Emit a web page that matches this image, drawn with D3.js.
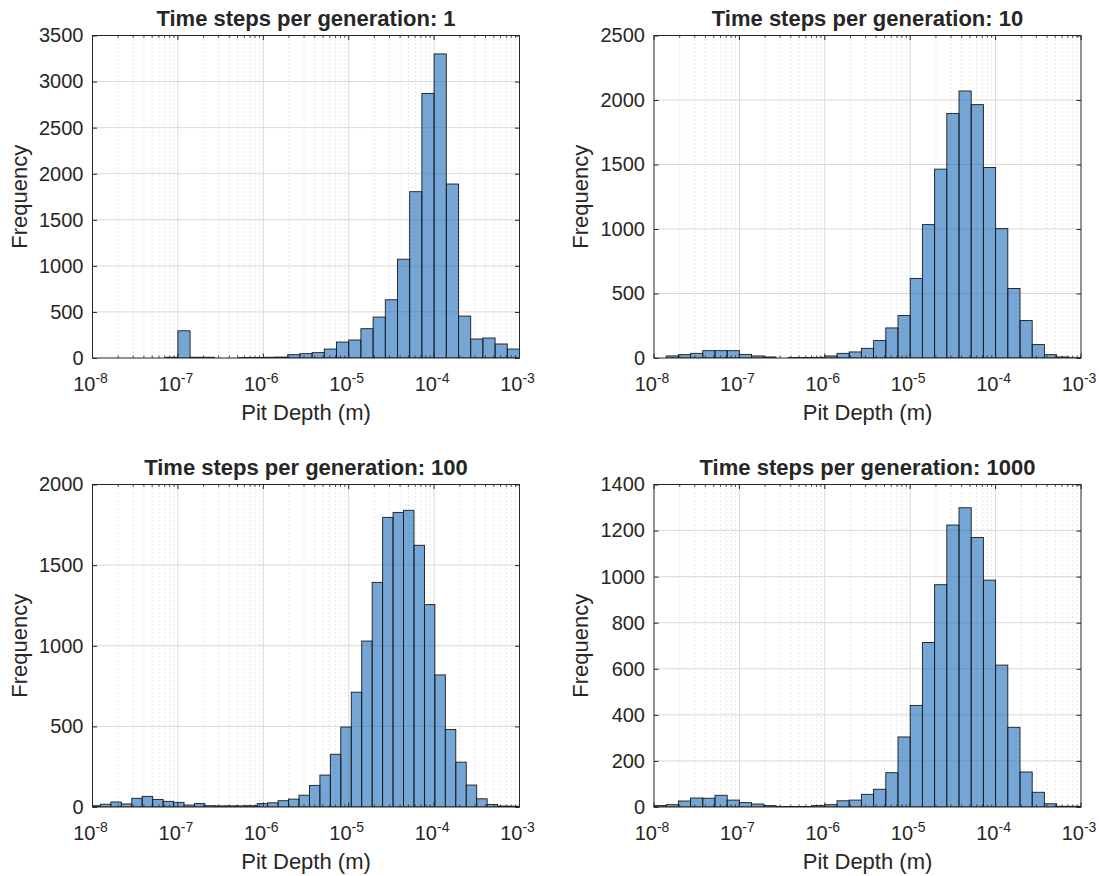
<!DOCTYPE html>
<html>
<head>
<meta charset="utf-8">
<script src="https://cdn.jsdelivr.net/npm/d3@7"></script>
<style>
  body { margin: 0; background: #fff; }
  text { font-family: "Liberation Sans", Arial, Helvetica, sans-serif; fill: #262626; }
</style>
</head>
<body>
<svg id="chart" width="1101" height="876"></svg>
<script>
// Time steps per generation for each panel
const steps = [1, 10, 100, 1000];

// log10 of first bin edge and bin width in decades
const binStart = [-8, -8, -8.03, -8];
const binWidth = [1 / 7, 1 / 7, 0.1224, 1 / 7];

// bin counts, left to right
const counts1 = [0, 0, 0, 0, 0, 0, 8, 295, 8, 8, 0, 0, 6, 6, 8, 10,
  36, 47, 58, 97, 173, 195, 318, 444, 632, 1072, 1805, 2870, 3300, 1888,
  455, 206, 217, 152, 97];
const counts2 = [0, 16, 26, 36, 57, 57, 57, 28, 16, 8, 0, 4, 4, 5, 16, 36,
  47, 75, 135, 233, 329, 617, 1034, 1464, 1896, 2070, 1964, 1477, 1003, 539,
  290, 104, 26, 8, 2];
const counts3 = [8, 17, 31, 19, 54, 66, 47, 35, 29, 12, 21, 8, 7, 7, 7, 8,
  21, 26, 39, 49, 73, 134, 198, 327, 496, 712, 1029, 1393, 1796, 1827,
  1840, 1623, 1255, 819, 481, 278, 136, 51, 16, 6, 5];
const counts4 = [6, 10, 26, 39, 38, 51, 30, 19, 13, 6, 2, 2, 2, 6, 10, 27,
  30, 55, 77, 149, 304, 441, 714, 965, 1224, 1299, 1170, 985, 616, 346,
  152, 64, 14, 3, 3];
const allCounts = [counts1, counts2, counts3, counts4];

// y axis limits and tick steps
const yMax = [3500, 2500, 2000, 1400];
const yStep = [500, 500, 500, 200];

// x axis decades
const decades = [-8, -7, -6, -5, -4, -3];

const svg = d3.select("#chart");
const w = 427, h = 322.5;
const lefts = [92.5, 654, 92.5, 654];
const tops = [35.5, 35.5, 484.5, 484.5];

const x = d3.scaleLog().domain([1e-8, 1e-3]).range([0, w]);

// minor positions 2..9 x 10^k
const minors = [];
decades.slice(0, -1).forEach(k => {
  for (let m = 2; m <= 9; m++) minors.push(m * Math.pow(10, k));
});

steps.forEach((s, p) => {
  const counts = allCounts[p];
  const y = d3.scaleLinear().domain([0, yMax[p]]).range([h, 0]);
  const g = svg.append("g").attr("transform", `translate(${lefts[p]},${tops[p]})`);

  g.append("defs").append("clipPath").attr("id", "clip" + p)
    .append("rect").attr("width", w).attr("height", h);

  // minor vertical grid (dotted)
  g.selectAll(".minor").data(minors).enter().append("line")
    .attr("x1", d => x(d)).attr("x2", d => x(d))
    .attr("y1", 0).attr("y2", h)
    .attr("stroke", "#c4c4c4").attr("stroke-width", 0.8)
    .attr("stroke-dasharray", "1,3");

  // major grid
  g.selectAll(".vmajor").data(decades.slice(1, -1)).enter().append("line")
    .attr("x1", d => x(Math.pow(10, d))).attr("x2", d => x(Math.pow(10, d)))
    .attr("y1", 0).attr("y2", h)
    .attr("stroke", "#d9d9d9").attr("stroke-width", 1);
  const yTicks = d3.range(0, yMax[p] + 1, yStep[p]);
  g.selectAll(".hmajor").data(yTicks.slice(1, -1)).enter().append("line")
    .attr("x1", 0).attr("x2", w)
    .attr("y1", d => y(d)).attr("y2", d => y(d))
    .attr("stroke", "#d9d9d9").attr("stroke-width", 1);

  // bars
  const bins = counts.map((c, i) => ({
    x0: Math.pow(10, binStart[p] + i * binWidth[p]),
    x1: Math.pow(10, binStart[p] + (i + 1) * binWidth[p]),
    c
  })).filter(d => d.c > 0);

  g.append("g").attr("clip-path", `url(#clip${p})`)
    .selectAll("rect").data(bins).enter().append("rect")
    .attr("x", d => x(d.x0))
    .attr("width", d => x(d.x1) - x(d.x0))
    .attr("y", d => y(d.c))
    .attr("height", d => y(0) - y(d.c))
    .attr("fill", "rgb(25,107,185)")
    .attr("fill-opacity", 0.6)
    .attr("stroke", "#1a1a1a")
    .attr("stroke-width", 0.9);

  // y axis ticks and labels (inward ticks)
  const ya = g.append("g")
    .call(d3.axisLeft(y).tickValues(yTicks).tickFormat(d3.format("d"))
      .tickSize(-4.5).tickPadding(9));
  ya.select(".domain").remove();
  ya.selectAll("line").attr("stroke", "#262626");
  ya.selectAll("text").attr("font-size", 20).attr("fill", "#262626")
    .attr("font-family", "'Liberation Sans', Arial, sans-serif");
  const yr = g.append("g").attr("transform", `translate(${w},0)`)
    .call(d3.axisRight(y).tickValues(yTicks).tickSize(-4.5).tickFormat(""));
  yr.select(".domain").remove();
  yr.selectAll("line").attr("stroke", "#262626");

  // x ticks (major and minor) bottom & top
  [[h, -1], [0, 1]].forEach(([yy, dir]) => {
    g.selectAll(null).data(decades).enter().append("line")
      .attr("x1", d => x(Math.pow(10, d))).attr("x2", d => x(Math.pow(10, d)))
      .attr("y1", yy).attr("y2", yy + dir * 4.5)
      .attr("stroke", "#262626");
    g.selectAll(null).data(minors).enter().append("line")
      .attr("x1", d => x(d)).attr("x2", d => x(d))
      .attr("y1", yy).attr("y2", yy + dir * 2.5)
      .attr("stroke", "#262626").attr("stroke-width", 0.8);
  });

  // x tick labels 10^k
  const xl = g.selectAll(".xl").data(decades).enter().append("text")
    .attr("x", d => x(Math.pow(10, d)) - 2)
    .attr("y", h + 33.4)
    .attr("text-anchor", "middle")
    .attr("font-size", 20);
  xl.append("tspan").text("10");
  xl.append("tspan").attr("font-size", 14).attr("dy", -8.4).text(d => "-" + Math.abs(d));

  // box
  g.append("rect").attr("width", w).attr("height", h)
    .attr("fill", "none").attr("stroke", "#262626").attr("stroke-width", 1);

  // title
  g.append("text").attr("x", w / 2).attr("y", -10)
    .attr("text-anchor", "middle").attr("font-size", 22).attr("font-weight", "bold")
    .attr("fill", "#000")
    .text("Time steps per generation: " + s);

  // axis labels
  g.append("text").attr("x", w / 2).attr("y", h + 61.5)
    .attr("text-anchor", "middle").attr("font-size", 22)
    .text("Pit Depth (m)");
  g.append("text")
    .attr("transform", `translate(-66,${h / 2}) rotate(-90)`)
    .attr("text-anchor", "middle").attr("font-size", 22)
    .text("Frequency");
});
</script>
</body>
</html>
